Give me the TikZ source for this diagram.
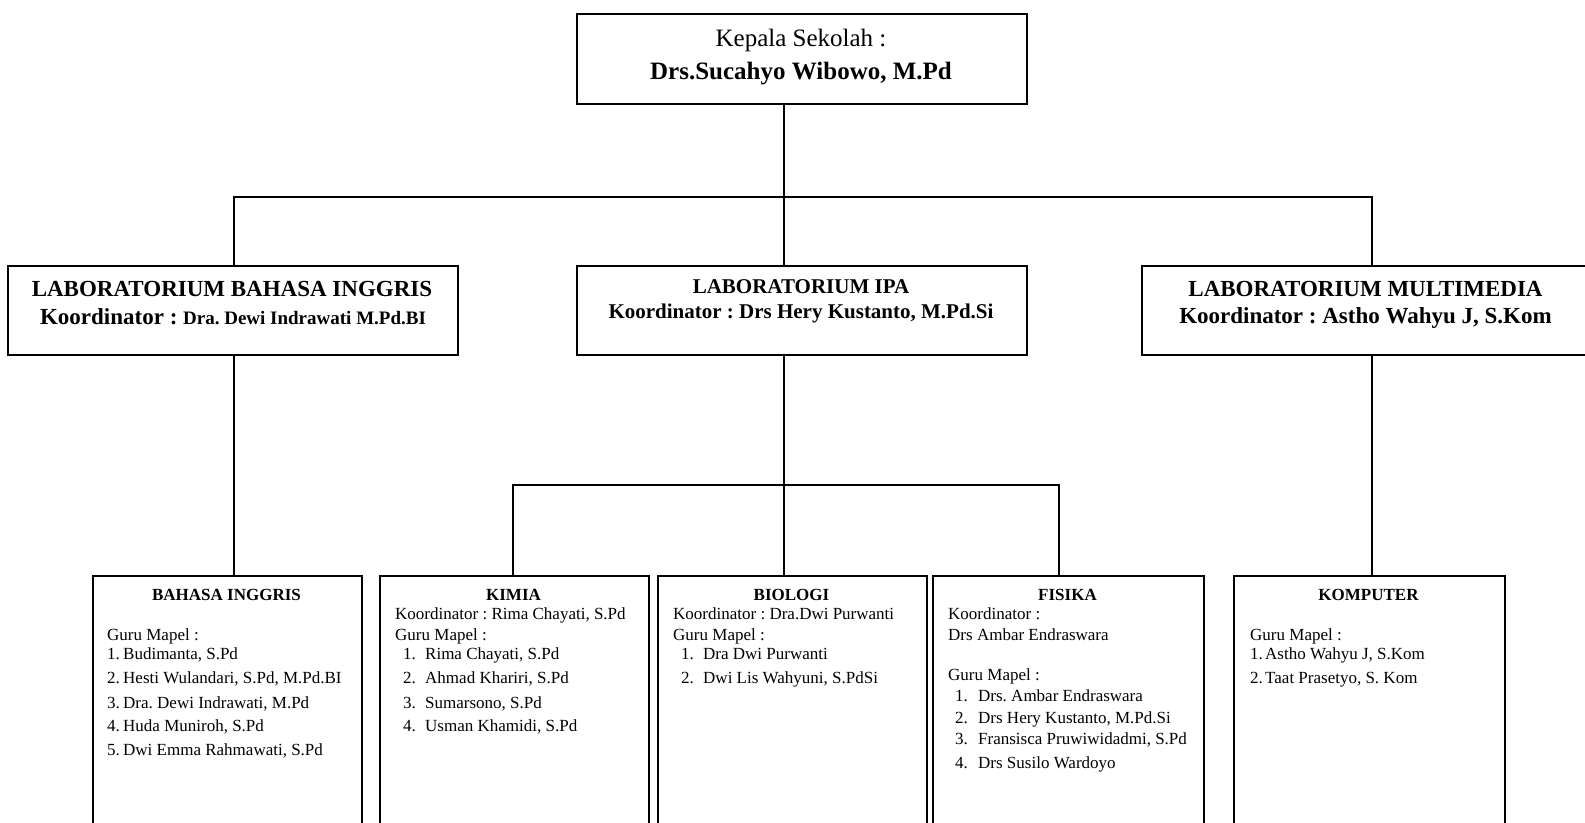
\documentclass[tikz,border=0pt]{standalone}
\usepackage{fontspec}
\setmainfont{Liberation Serif}
\newcommand\myfs[1]{\fontsize{#1}{#1}\selectfont}
\frenchspacing
\begin{document}
\begin{tikzpicture}[x=1pt,y=-1pt,
  box/.style={draw, line width=1.6pt, rectangle, inner sep=0pt, anchor=north west},
  conn/.style={line width=2.8pt},
  ltxt/.style={inner sep=0pt, anchor=base west, font=\myfs{17}},
  ctxt/.style={inner sep=0pt, anchor=base}]
\useasboundingbox (0,0) rectangle (1585,822);
\clip (0,0) rectangle (1585,822);
% top
\node[box, minimum width=450pt, minimum height=90pt] (top) at (576,13) {};
\node[ctxt, font=\myfs{25}] (t1) at (801,46) {Kepala Sekolah :};
\node[ctxt, font=\bfseries\myfs{25}] (t2) at (801,79) {Drs.Sucahyo Wibowo, M.Pd};
% labs
\node[box, minimum width=450pt, minimum height=89pt] (lab1) at (7,265) {};
\node[ctxt, font=\bfseries\myfs{23}] (l1a) at (232,296) {LABORATORIUM BAHASA INGGRIS};
\node[ctxt, font=\bfseries\myfs{23}] (l1b) at (233,324.5) {Koordinator : {\myfs{19}Dra. Dewi Indrawati M.Pd.BI}};
\node[box, minimum width=450pt, minimum height=89pt] (lab2) at (576,265) {};
\node[ctxt, font=\bfseries\myfs{21}] (l2a) at (801,293) {LABORATORIUM IPA};
\node[ctxt, font=\bfseries\myfs{21}] (l2b) at (801,318) {Koordinator : Drs Hery Kustanto, M.Pd.Si};
\node[box, minimum width=461pt, minimum height=89pt] (lab3) at (1141,265) {};
\node[ctxt, font=\bfseries\myfs{23}] (l3a) at (1365.5,296.5) {LABORATORIUM MULTIMEDIA};
\node[ctxt, font=\bfseries\myfs{23}] (l3b) at (1365.5,323.5) {Koordinator : Astho Wahyu J, S.Kom};
% bottom boxes
\node[box, minimum width=269pt, minimum height=270pt] (bi) at (92,575) {};
\node[box, minimum width=269pt, minimum height=270pt] (kim) at (379,575) {};
\node[box, minimum width=269pt, minimum height=270pt] (bio) at (657,575) {};
\node[box, minimum width=271pt, minimum height=270pt] (fis) at (932,575) {};
\node[box, minimum width=271pt, minimum height=270pt] (kom) at (1233,575) {};
% BI
\node[ctxt, font=\bfseries\myfs{17}] (bit) at (226.5,600) {BAHASA INGGRIS};
\node[ltxt] (big) at (107,640.5) {Guru Mapel :};
\node[ltxt] (bi1) at (107,659.5) {\makebox[16pt][l]{1.}Budimanta, S.Pd};
\node[ltxt] (bi2) at (107,683.5) {\makebox[16pt][l]{2.}Hesti Wulandari, S.Pd, M.Pd.BI};
\node[ltxt] (bi3) at (107,708) {\makebox[16pt][l]{3.}Dra. Dewi Indrawati, M.Pd};
\node[ltxt] (bi4) at (107,731.5) {\makebox[16pt][l]{4.}Huda Muniroh, S.Pd};
\node[ltxt] (bi5) at (107,755.5) {\makebox[16pt][l]{5.}Dwi Emma Rahmawati, S.Pd};
% KIMIA
\node[ctxt, font=\bfseries\myfs{17}] (kt) at (513.5,600) {KIMIA};
\node[ltxt] (kk) at (395,619) {Koordinator : Rima Chayati, S.Pd};
\node[ltxt] (kg) at (395,640.5) {Guru Mapel :};
\node[ltxt] (k1) at (403,659.5) {\makebox[22pt][l]{1.}Rima Chayati, S.Pd};
\node[ltxt] (k2) at (403,683.5) {\makebox[22pt][l]{2.}Ahmad Khariri, S.Pd};
\node[ltxt] (k3) at (403,708) {\makebox[22pt][l]{3.}Sumarsono, S.Pd};
\node[ltxt] (k4) at (403,731.5) {\makebox[22pt][l]{4.}Usman Khamidi, S.Pd};
% BIOLOGI
\node[ctxt, font=\bfseries\myfs{17}] (bt) at (791.5,600) {BIOLOGI};
\node[ltxt] (bk) at (673,619) {Koordinator : Dra.Dwi Purwanti};
\node[ltxt] (bg) at (673,640.5) {Guru Mapel :};
\node[ltxt] (b1) at (681,659.5) {\makebox[22pt][l]{1.}Dra Dwi Purwanti};
\node[ltxt] (b2) at (681,683.5) {\makebox[22pt][l]{2.}Dwi Lis Wahyuni, S.PdSi};
% FISIKA
\node[ctxt, font=\bfseries\myfs{17}] (ft) at (1067.5,600) {FISIKA};
\node[ltxt] (fk) at (948,619) {Koordinator :};
\node[ltxt] (fk2) at (948,640.5) {Drs Ambar Endraswara};
\node[ltxt] (fg) at (948,680.5) {Guru Mapel :};
\node[ltxt] (f1) at (955,701) {\makebox[23pt][l]{1.}Drs. Ambar Endraswara};
\node[ltxt] (f2) at (955,723) {\makebox[23pt][l]{2.}Drs Hery Kustanto, M.Pd.Si};
\node[ltxt] (f3) at (955,744.5) {\makebox[23pt][l]{3.}Fransisca Pruwiwidadmi, S.Pd};
\node[ltxt] (f4) at (955,768.5) {\makebox[23pt][l]{4.}Drs Susilo Wardoyo};
% KOMPUTER
\node[ctxt, font=\bfseries\myfs{17}] (ot) at (1368.5,600) {KOMPUTER};
\node[ltxt] (og) at (1250,640.5) {Guru Mapel :};
\node[ltxt] (o1) at (1250,659.5) {\makebox[15pt][l]{1.}Astho Wahyu J, S.Kom};
\node[ltxt] (o2) at (1250,683.5) {\makebox[15pt][l]{2.}Taat Prasetyo, S. Kom};
% connectors
\coordinate (hl) at (234,197);
\coordinate (hm) at (784,197);
\coordinate (hr) at (1372,197);
\coordinate (kb) at (513,485);
\coordinate (fb) at (1059,485);
\draw[conn] (top.south -| hm) -- (lab2.north -| hm);
\draw[conn] (lab1.north -| hl) -- (hl) -- (hr) -- (lab3.north -| hr);
\draw[conn] (lab1.south -| hl) -- (bi.north -| hl);
\draw[conn] (lab3.south -| hr) -- (kom.north -| hr);
\draw[conn] (lab2.south -| hm) -- (bio.north -| hm);
\draw[conn] (kim.north -| kb) -- (kb) -- (fb) -- (fis.north -| fb);
\end{tikzpicture}
\end{document}
